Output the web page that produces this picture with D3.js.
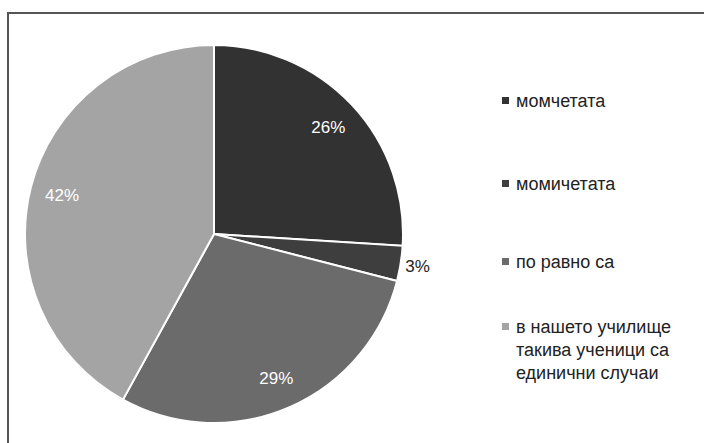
<!DOCTYPE html>
<html>
<head>
<meta charset="utf-8">
<script src="https://cdn.jsdelivr.net/npm/d3@7"></script>
<style>
  html, body { margin: 0; padding: 0; background: #fff; }
  svg { display: block; font-family: "Liberation Sans", Arial, sans-serif; }
</style>
</head>
<body>
<svg id="chart" width="704" height="443"></svg>
<script>
const categories = ["момчетата", "момичетата", "по равно са", "в нашето училище такива ученици са единични случаи"];
const values = [26, 3, 29, 42];
const legendLines = [["момчетата"], ["момичетата"], ["по равно са"], ["в нашето училище", "такива ученици са", "единични случаи"]];
const colors = ["#323232", "#3e3e3e", "#6b6b6b", "#a4a4a4"];

const svg = d3.select("#chart");

// frame (cut off on the right and bottom in the original)
svg.append("rect")
  .attr("x", 8).attr("y", 13)
  .attr("width", 720).attr("height", 460)
  .attr("fill", "none")
  .attr("stroke", "#555")
  .attr("stroke-width", 2);

const cx = 214, cy = 234, r = 189;

const pie = d3.pie().sort(null).value(d => d);
const arcs = pie(values);
const arc = d3.arc().innerRadius(0).outerRadius(r);

const g = svg.append("g").attr("transform", `translate(${cx},${cy})`);

g.selectAll("path")
  .data(arcs)
  .enter()
  .append("path")
  .attr("d", arc)
  .attr("fill", (d, i) => colors[i])
  .attr("stroke", "#fff")
  .attr("stroke-width", 2);

// percentage labels
const labelArc = d3.arc().innerRadius(r * 0.83).outerRadius(r * 0.83);
const outerArc = d3.arc().innerRadius(r * 1.09).outerRadius(r * 1.09);

g.selectAll("text.pct")
  .data(arcs)
  .enter()
  .append("text")
  .attr("class", "pct")
  .attr("transform", (d, i) => {
    const c = (i === 1 ? outerArc : labelArc).centroid(d);
    return `translate(${c[0]},${c[1]})`;
  })
  .attr("text-anchor", "middle")
  .attr("dy", "0.35em")
  .attr("font-size", 17)
  .attr("fill", (d, i) => i === 1 ? "#222" : "#fff")
  .text(d => d.data + "%");

// legend
const legendY = [101, 184, 262, 327];
const legend = svg.append("g");
legendLines.forEach((lines, i) => {
  const row = legend.append("g").attr("transform", `translate(502,${legendY[i]})`);
  row.append("rect")
    .attr("x", 0).attr("y", -4)
    .attr("width", 7).attr("height", 7)
    .attr("fill", colors[i]);
  const t = row.append("text")
    .attr("x", 14)
    .attr("y", 0)
    .attr("font-size", 18)
    .attr("fill", "#222");
  lines.forEach((ln, j) => {
    t.append("tspan").attr("x", 14).attr("dy", j === 0 ? "0.35em" : 23).text(ln);
  });
});
</script>
</body>
</html>
